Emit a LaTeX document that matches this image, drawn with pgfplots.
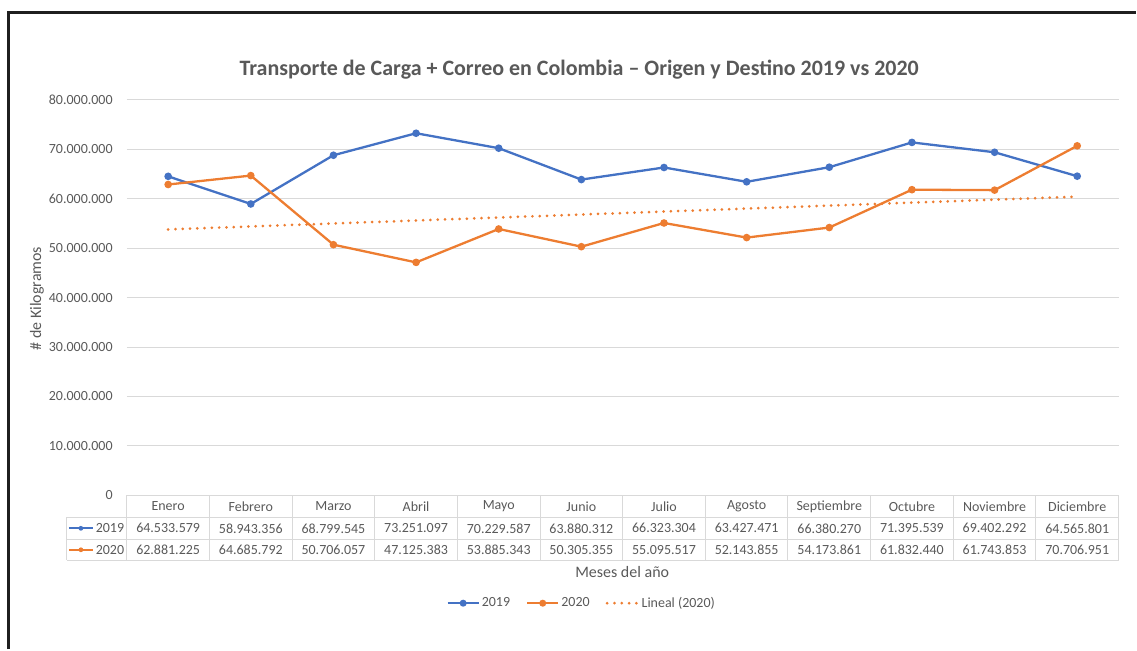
\documentclass[border=0pt]{standalone}
\usepackage{pgfplots}
\pgfplotsset{compat=1.18}
\usepackage{pgfplotstable}
\usepackage{fontspec}
\setmainfont{Carlito}
\definecolor{c19}{HTML}{4472C4}
\definecolor{c20}{HTML}{ED7D31}
\definecolor{gridc}{HTML}{D9D9D9}
\definecolor{txt}{HTML}{595959}
\newcommand\tbl{\fontsize{14bp}{16bp}\selectfont}
\newcommand\lbl{\fontsize{16bp}{18bp}\selectfont}

\pgfplotstableread{
x mes y2019 y2020
1 Enero 64533579 62881225
2 Febrero 58943356 64685792
3 Marzo 68799545 50706057
4 Abril 73251097 47125383
5 Mayo 70229587 53885343
6 Junio 63880312 50305355
7 Julio 66323304 55095517
8 Agosto 63427471 52143855
9 Septiembre 66380270 54173861
10 Octubre 71395539 61832440
11 Noviembre 69402292 61743853
12 Diciembre 64565801 70706951
}\datatable

\pgfplotstableread{
x y
1 53793707
12 60420565
}\trendtable

\begin{document}
\begin{tikzpicture}
\begin{scope}[x=1bp,y=-1bp]
\useasboundingbox (0,0) rectangle (1137,650);
\end{scope}
\begin{axis}[
  at={(127bp,-496bp)}, anchor=south west,
  width=993bp, height=396bp, scale only axis,
  xmin=0.5, xmax=12.5, ymin=0, ymax=80000000,
  axis line style={draw=none},
  xtick=\empty,
  ytick={0,10000000,20000000,30000000,40000000,50000000,60000000,70000000,80000000},
  ymajorgrids,
  major grid style={gridc, line width=1bp},
  major tick length=0pt,
  scaled y ticks=false,
  /pgf/number format/assume math mode=true,
  /pgf/number format/1000 sep={.},
  yticklabel style={anchor=east, inner sep=0pt, xshift=-14bp, font=\tbl, text=txt,
    /pgf/number format/fixed, /pgf/number format/precision=0},
  clip=false,
  legend style={at={(rel axis cs:0.4587,-0.2727)}, anchor=center, draw=none, fill=none,
    font=\tbl, text=txt, legend columns=-1,
    /tikz/every even column/.append style={column sep=14bp},
    nodes={inner xsep=2bp}},
  legend image code/.code={\draw[#1, mark repeat=2, mark phase=2, mark size=2.3bp] plot coordinates {(0bp,0bp) (15.5bp,0bp) (31bp,0bp)};},
]
\addplot[c19, line width=2.3bp, mark=*, mark size=2.6bp, mark options={solid, fill=c19}] table[x=x,y=y2019]{\datatable};
\addlegendentry{2019}
\addplot[c20, line width=2.3bp, mark=*, mark size=2.6bp, mark options={solid, fill=c20}] table[x=x,y=y2020]{\datatable};
\addlegendentry{2020}
\addplot[c20, line width=3bp, line cap=round, dash pattern=on 0bp off 7.3bp, no marks] table[x=x,y=y]{\trendtable};
\addlegendentry{Lineal (2020)}
\end{axis}
\begin{scope}[x=1bp,y=-1bp]
% table grid
\draw[gridc, line width=1bp] (127,496) -- (1120,496);
\foreach \yy in {518,540,561} \draw[gridc, line width=1bp] (67,\yy) -- (1120,\yy);
\draw[gridc, line width=1bp] (67,518) -- (67,561);
\foreach \k in {0,...,12} \draw[gridc, line width=1bp] ({127+\k*82.75},496) -- ({127+\k*82.75},561);
\foreach \r in {0,...,11} {
  \pgfplotstablegetelem{\r}{mes}\of\datatable
  \node[font=\tbl, text=txt] at ({127+(\r+0.5)*82.75},507) {\pgfplotsretval};
  \pgfplotstablegetelem{\r}{y2019}\of\datatable
  \node[font=\tbl, text=txt] at ({127+(\r+0.5)*82.75},529) {\pgfmathprintnumber[fixed, precision=0, 1000 sep={.}, assume math mode=true]{\pgfplotsretval}};
  \pgfplotstablegetelem{\r}{y2020}\of\datatable
  \node[font=\tbl, text=txt] at ({127+(\r+0.5)*82.75},550.5) {\pgfmathprintnumber[fixed, precision=0, 1000 sep={.}, assume math mode=true]{\pgfplotsretval}};
}
% row keys
\draw[c19, line width=2.3bp] (69,529) -- (93,529); \fill[c19] (81,529) circle (2.4bp);
\node[font=\tbl, text=txt, anchor=east, inner sep=0pt] at (124.5,529) {2019};
\draw[c20, line width=2.3bp] (69,550.5) -- (93,550.5); \fill[c20] (81,550.5) circle (2.4bp);
\node[font=\tbl, text=txt, anchor=east, inner sep=0pt] at (124.5,550.5) {2020};
% labels
\node[font=\fontsize{22bp}{26bp}\selectfont\bfseries, text=txt] at (580,70) {Transporte de Carga + Correo en Colombia – Origen y Destino 2019 vs 2020};
\node[font=\lbl, text=txt, rotate=90] at (37,299) {\# de Kilogramos};
\node[font=\lbl, text=txt] at (623,573) {Meses del año};
% frame
\draw[black!88, line width=3bp] (8.7,650) -- (8.7,12.5) -- (1137,12.5);
\end{scope}
\end{tikzpicture}
\end{document}
